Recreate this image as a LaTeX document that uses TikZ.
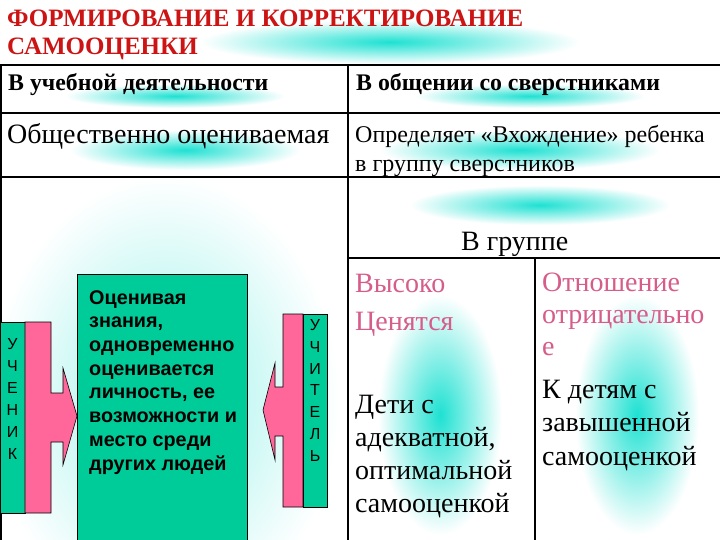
\documentclass[tikz,border=0pt]{standalone}
\usepackage{fontspec}
\setmainfont{Liberation Serif}
\newfontfamily\arialfont{Liberation Sans}
\usetikzlibrary{positioning}
\definecolor{titlecolor}{RGB}{204,20,20}
\definecolor{stripgreen}{RGB}{0,204,153}
\definecolor{strippink}{RGB}{255,102,153}
\definecolor{pinktext}{RGB}{214,92,138}
\definecolor{glowcolor}{RGB}{30,225,210}

\begin{document}
\begin{tikzpicture}[
    x=1pt, y=-1pt,
    glow/.style={inner color=glowcolor, outer color=white},
    softglow/.style={inner color=glowcolor!45, outer color=white},
    grid/.style={line width=1.2pt},
    txt/.style={anchor=base west, inner sep=0pt, align=left},
    title/.style={txt, font=\fontsize{25}{28}\selectfont\bfseries, text=titlecolor},
    head/.style={txt, font=\fontsize{23.8}{26}\selectfont\bfseries},
    big/.style={txt, font=\fontsize{28}{33}\selectfont},
    strip/.style={draw, line width=0.6pt, fill=stripgreen, inner sep=0pt},
    letters/.style={anchor=base, inner sep=0pt, align=center},
    pinkarrow/.style={draw, line width=0.6pt, fill=strippink}
]
\useasboundingbox (0,0) rectangle (720,540);
\fill[white] (0,0) rectangle (720,540);

% Background glow
\begin{scope}[blend mode=multiply]
\shade[glow] (390,42) ellipse (190pt and 22pt);
\shade[glow] (175,96) ellipse (110pt and 12pt);
\shade[glow] (530,96) ellipse (115pt and 12pt);
\shade[glow] (185,150) ellipse (115pt and 20pt);
\shade[glow] (520,150) ellipse (140pt and 20pt);
\shade[glow] (540,205) ellipse (130pt and 20pt);
\shade[softglow] (165,400) ellipse (175pt and 225pt);
\shade[glow] (440,415) ellipse (62pt and 120pt);
\shade[glow] (637,415) ellipse (62pt and 120pt);
\end{scope}

% Title
\node[title] (title1) at (7,27) {ФОРМИРОВАНИЕ И КОРРЕКТИРОВАНИЕ};
\node[title] (title2) at (7,55) {САМООЦЕНКИ};

% Table lines
\draw[grid] (0,65) -- (720,65);
\draw[grid] (0,113) -- (720,113);
\draw[grid] (0,177) -- (720,177);
\draw[grid] (348,258) -- (720,258);
\draw[grid] (1,65) -- (1,540);
\draw[grid] (348,65) -- (348,540);
\draw[grid] (535,258) -- (535,540);

% Header row
\node[head] (study) at (8,91) {В учебной деятельности};
\node[head] (peers) at (356,91) {В общении со сверстниками};

% Second row (base = last line)
\node[txt, font=\fontsize{28}{32}\selectfont] (social) at (7,144) {Общественно оцениваемая};
\node[txt, font=\fontsize{24}{29}\selectfont] (entry) at (355,172) {Определяет «Вхождение» ребенка\\в группу сверстников};

% Pupil strip and arrow
\node[strip, minimum width=25pt, minimum height=191pt] (pupil) at (12.5,417.5) {};
\node[letters, font=\arialfont\fontsize{16}{22}\selectfont] (pupiltxt) at (12.5,459) {У\\Ч\\Е\\Н\\И\\К};
\draw[pinkarrow] (25,322) -- (51,322) -- (51,393) -- (63,393) -- (63,368) -- (77,416)
    -- (63,465) -- (63,442) -- (51,442) -- (51,513) -- (25,513) -- cycle;

% Middle box
\node[draw, line width=0.6pt, fill=stripgreen, minimum width=170pt, minimum height=280pt, anchor=north west] (assess) at (77,274) {};
\node[txt, font=\arialfont\fontsize{19.8}{23.7}\selectfont\bfseries] (assesstxt) at (89,470)
    {Оценивая\\знания,\\одновременно\\оценивается\\личность, ее\\возможности и\\место среди\\других людей};

% Teacher strip and arrow
\node[strip, minimum width=24pt, minimum height=193pt] (teacher) at (315,410.5) {};
\node[letters, font=\arialfont\fontsize{16}{21.7}\selectfont] (teachertxt) at (315,461) {У\\Ч\\И\\Т\\Е\\Л\\Ь};
\draw[pinkarrow] (303,314) -- (283,314) -- (283,387) -- (275,387) -- (275,363) -- (263,410)
    -- (275,460) -- (275,436) -- (283,436) -- (283,507) -- (303,507) -- cycle;

% Group cells
\node[txt, font=\fontsize{28}{32}\selectfont] (group) at (461,250) {В группе};
\node[big, text=pinktext, font=\fontsize{28}{38}\selectfont] (valued) at (355,330) {Высоко\\Ценятся};
\node[big] (adequate) at (355,512) {Дети с\\адекватной,\\оптимальной\\самооценкой};
\node[big, text=pinktext, font=\fontsize{28}{32}\selectfont] (negative) at (542,355) {Отношение\\отрицательно\\е};
\node[big, font=\fontsize{28}{33.5}\selectfont] (inflated) at (542,465) {К детям с\\завышенной\\самооценкой};

\end{tikzpicture}
\end{document}
